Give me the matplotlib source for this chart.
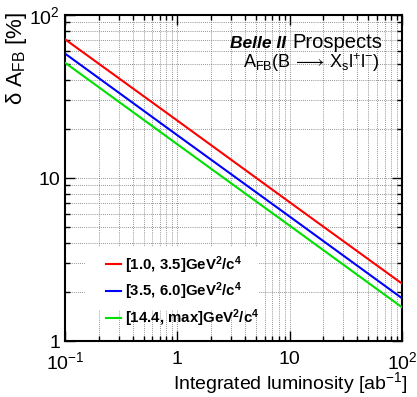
import numpy as np
import matplotlib.pyplot as plt
from matplotlib.patches import Rectangle

plt.rcParams['font.family'] = ['Liberation Sans', 'DejaVu Sans']
plt.rcParams['mathtext.fontset'] = 'custom'
plt.rcParams['mathtext.rm'] = 'Liberation Sans'
plt.rcParams['mathtext.it'] = 'Liberation Sans:italic'
plt.rcParams['mathtext.bf'] = 'Liberation Sans:bold'

# integrated luminosity [ab^-1] and expected precision [%]
lumi = [0.1, 1, 10, 100]
err_low = [71, 22.5, 7.1, 2.25]     # [1.0, 3.5]
err_mid = [58, 18.3, 5.8, 1.83]     # [3.5, 6.0]
err_high = [51, 16.1, 5.1, 1.61]    # [14.4, max]
labels = [r"[1.0, 3.5]GeV$^{\mathbf{2}}$/c$^{\mathbf{4}}$",
          r"[3.5, 6.0]GeV$^{\mathbf{2}}$/c$^{\mathbf{4}}$",
          r"[14.4, max]GeV$^{\mathbf{2}}$/c$^{\mathbf{4}}$"]
colors = ['#ff0000', '#0000ff', '#00e000']

W, H = 417, 397
fig = plt.figure(figsize=(W/100, H/100), dpi=100)
ax = fig.add_axes([65/W, 56/H, 337/W, 326/H])

for y, lab, c in zip([err_low, err_mid, err_high], labels, colors):
    ax.plot(lumi, y, color=c, lw=1.5, label=lab, zorder=3)

ax.set_xscale('log')
ax.set_yscale('log')
ax.set_xlim(0.1, 100)
ax.set_ylim(1, 100)
ax.set_xticks([0.1, 1, 10, 100], [r'$10^{-1}$', '1', '10', r'$10^{2}$'])
ax.set_yticks([1, 10, 100], ['1', '10', r'$10^{2}$'])
ax.grid(which='both', color='#707070', lw=0.6, ls=(0, (1, 1.5)))
ax.tick_params(which='both', direction='in', top=True, right=True, labelsize=14, width=1)
ax.tick_params(which='major', length=7)
ax.tick_params(which='minor', length=3.6)
ax.tick_params(axis='x', pad=7)
ax.tick_params(axis='y', pad=3.5)
for s in ax.spines.values():
    s.set_linewidth(1.5)

fig.text(17/W, 1 - 12/H, 'δ A$_{\\mathrm{FB}}$ [%]', rotation=90,
         ha='center', va='top', fontsize=16)
fig.text(408/W, (H - 389)/H, r'Integrated luminosity [ab$^{-1}$]',
         ha='right', va='baseline', fontsize=14)

fig.text(286/W, (H - 48)/H, 'Belle II', ha='right', va='baseline',
         fontsize=12.5, fontweight='bold', fontstyle='italic')
fig.text(292/W, (H - 48)/H, 'Prospects', ha='left', va='baseline', fontsize=14.5)
fig.text(311/W, (H - 68)/H,
         r'A$_{\mathrm{FB}}$(B$\,\longrightarrow\,$X$_{\mathrm{s}}$l$^{+}$l$^{-}$)',
         ha='center', va='baseline', fontsize=13)

# white legend box hiding the grid
ax.add_patch(Rectangle(((85 - 65)/337, (341 - 310)/326), (258 - 85)/337, (310 - 247)/326,
                       transform=ax.transAxes, facecolor='white', edgecolor='none', zorder=1.8))
leg = ax.legend(loc='upper left', bbox_to_anchor=((106 - 65)/337, (341 - 254)/326),
                frameon=False, prop={'weight': 'bold', 'size': 10.8}, handlelength=1.0,
                handletextpad=0.25, labelspacing=0.35, borderpad=0, borderaxespad=0)

fig.savefig('out.png', dpi=100)
